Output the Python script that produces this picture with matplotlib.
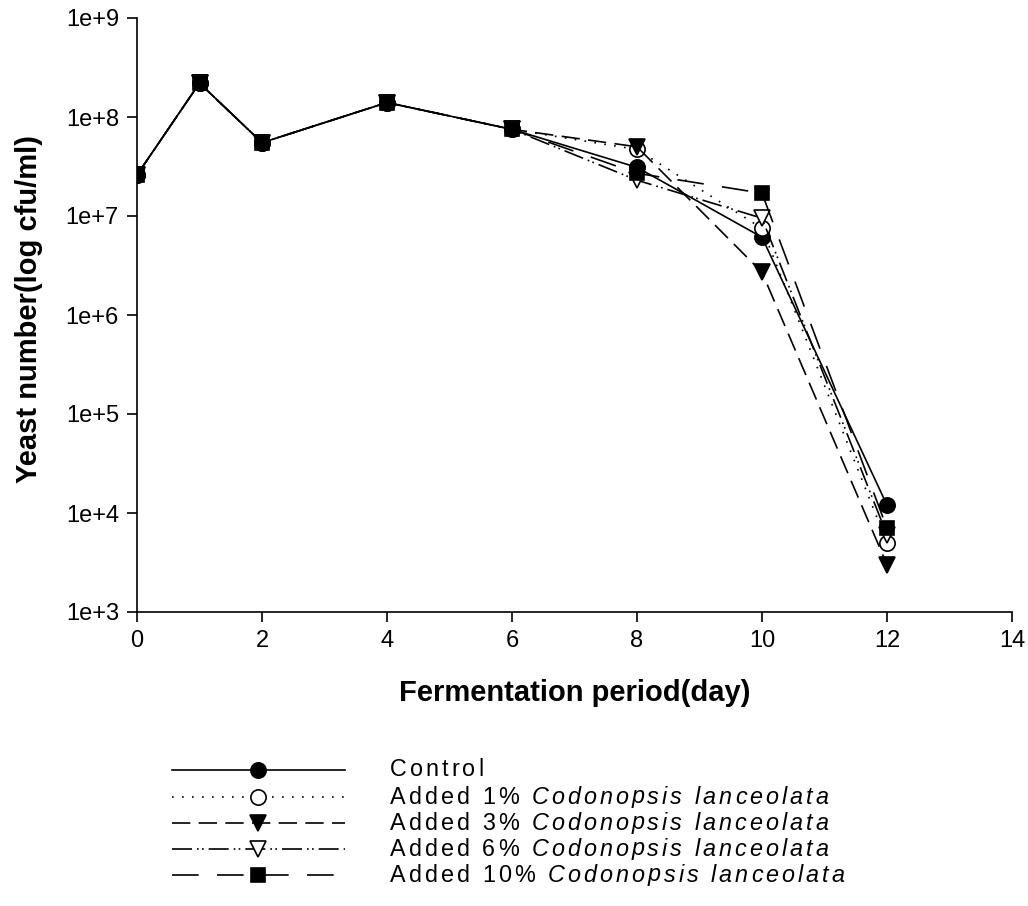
import numpy as np
import matplotlib
matplotlib.use("Agg")
import matplotlib.pyplot as plt

plt.rcParams["font.family"] = ["Liberation Sans", "DejaVu Sans"]

# ── Data: yeast count during fermentation ────────────────────────────────────
days = [0, 1, 2, 4, 6, 8, 10, 12]

control = [2.6e7, 2.2e8, 5.5e7, 1.4e8, 7.5e7, 3.1e7, 6.1e6, 1.2e4]
added_1 = [2.6e7, 2.2e8, 5.5e7, 1.4e8, 7.5e7, 4.7e7, 7.5e6, 5.0e3]
added_3 = [2.6e7, 2.2e8, 5.5e7, 1.4e8, 7.5e7, 5.0e7, 2.7e6, 3.0e3]
added_6 = [2.6e7, 2.2e8, 5.5e7, 1.4e8, 7.5e7, 2.3e7, 9.5e6, 6.0e3]
added_10 = [2.6e7, 2.2e8, 5.5e7, 1.4e8, 7.5e7, 2.7e7, 1.7e7, 7.0e3]

series_names = ["Control", "Added 1%", "Added 3%", "Added 6%", "Added 10%"]
species = "Codonopsis lanceolata"

xticks = [0, 2, 4, 6, 8, 10, 12, 14]
yticks = [1e3, 1e4, 1e5, 1e6, 1e7, 1e8, 1e9]
ytick_labels = ["1e+3", "1e+4", "1e+5", "1e+6", "1e+7", "1e+8", "1e+9"]

# style per series: linestyle, marker, face colour
styles = [
    ("-", "o", "black"),
    ((0, (1, 5)), "o", "white"),
    ((0, (11, 5)), "v", "black"),
    ((0, (12, 3, 1, 2, 1, 3)), "v", "white"),
    ((0, (16, 11)), "s", "black"),
]
ms = {"o": 11, "v": 11, "s": 10}

fig = plt.figure(figsize=(10.28, 9.06), dpi=100)
ax = fig.add_axes([137 / 1028, 1 - 612 / 906, 875 / 1028, 594 / 906])

all_series = [control, added_1, added_3, added_6, added_10]
for vals, (ls, mk, fc) in zip(all_series, styles):
    ax.plot(days, vals, linestyle=ls, color="black", lw=1.2,
            marker=mk, markersize=ms[mk], markerfacecolor=fc,
            markeredgecolor="black", markeredgewidth=1.2)

ax.set_yscale("log")
ax.set_xlim(0, 14)
ax.set_ylim(1e3, 1e9)
ax.set_xticks(xticks)
ax.set_xticklabels([str(t) for t in xticks])
ax.set_yticks(yticks)
ax.set_yticklabels(ytick_labels)
ax.minorticks_off()
ax.tick_params(direction="out", length=7, width=1.2, labelsize=17, pad=6)
for s in ["top", "right"]:
    ax.spines[s].set_visible(False)
for s in ["left", "bottom"]:
    ax.spines[s].set_linewidth(1.2)

ax.set_xlabel("Fermentation period(day)", fontsize=21, fontweight="bold")
ax.set_ylabel("Yeast number(log cfu/ml)", fontsize=21, fontweight="bold")
ax.xaxis.set_label_coords(0.5, -(693 - 612) / 594, transform=ax.transAxes)
ax.yaxis.set_label_coords(-(137 - 29) / 875, 0.51, transform=ax.transAxes)
ax.xaxis.label.set_va("center")
ax.yaxis.label.set_va("center")

# ── Legend drawn in pixel space ──────────────────────────────────────────────
lax = fig.add_axes([0, 0, 1, 1], facecolor="none")
lax.set_xlim(0, 1028)
lax.set_ylim(906, 0)
lax.axis("off")

fig.canvas.draw()
renderer = fig.canvas.get_renderer()


def spaced_text(x, y, text, style="normal", track=3.0, size=16.8):
    # place characters one at a time to get the wide tracking
    space_w = 0.278 * size * 100 / 72
    for ch in text:
        if ch == " ":
            x += space_w + track
            continue
        t = lax.text(x, y, ch, fontsize=size, style=style, va="center", ha="left")
        w = t.get_window_extent(renderer=renderer).width
        x += w + track
    return x


rows_y = [770, 797, 823, 849, 875]
for i, (name, (ls, mk, fc)) in enumerate(zip(series_names, styles)):
    y = rows_y[i]
    lax.plot([172, 258, 345], [y, y, y], linestyle=ls, color="black", lw=1.2,
             marker=mk, markersize=ms[mk], markerfacecolor=fc,
             markeredgecolor="black", markeredgewidth=1.2, markevery=[1])
    if i == 0:
        spaced_text(390, y, name)
    else:
        x = spaced_text(390, y, name + " ")
        spaced_text(x, y, species, style="italic")

fig.savefig("out.png", dpi=100, facecolor="white")
